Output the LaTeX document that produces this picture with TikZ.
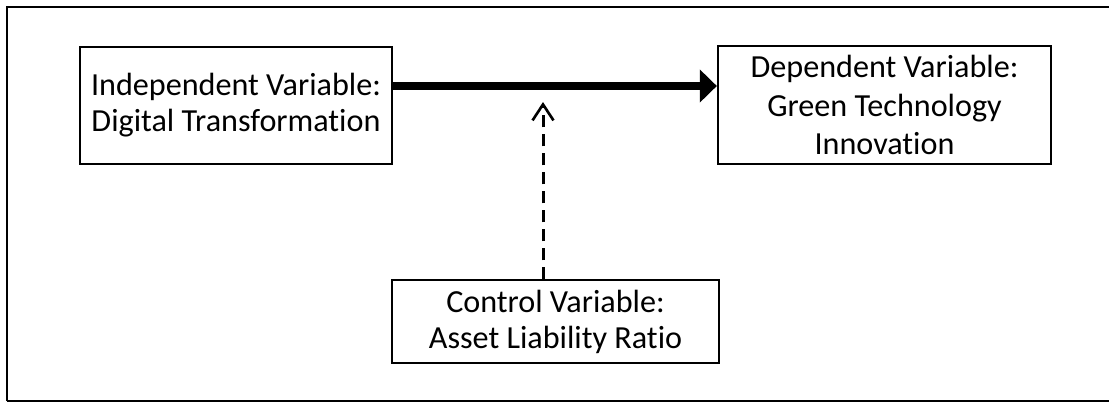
\documentclass[tikz,border=0pt]{standalone}
\usepackage{fontspec}
\setmainfont[Ligatures=NoCommon]{Carlito}
\usetikzlibrary{arrows.meta, positioning}

\begin{document}
\begin{tikzpicture}[draw=black, font=\fontsize{18.3}{20.5}\selectfont]
    \tikzstyle{frame}=[line width=1.2pt]
    \tikzstyle{var}=[rectangle, draw=black, line width=1.1pt, align=center, inner sep=0pt]
    \tikzstyle{ctrl var}=[var, line width=0.8pt]
    \tikzstyle{effect}=[line width=4pt, -{Triangle[length=0.34cm,width=0.64cm]}]
    \tikzstyle{control}=[line width=1.7pt, dash pattern=on 0.24cm off 0.14cm, -{Straight Barb[length=0.32cm,width=0.42cm,line width=1.5pt]}]

    \useasboundingbox (0,0) rectangle (22.18,-8.04);

    % outer frame
    \draw[frame] (0.14,-8.02) -- (0.14,-0.14) -- (22.18,-0.14);
    \draw[frame] (0.14,-8.02) -- (22.18,-8.02);

	\node[var, minimum width=6.24cm, minimum height=2.34cm] (IV) at (4.72,-2.11)
		{Independent Variable:\\Digital Transformation};
	\node[var, minimum width=6.66cm, minimum height=2.36cm, line width=1.3pt,
		font=\fontsize{18.3}{22}\selectfont] (DV) at (17.69,-2.10)
		{Dependent Variable:\\Green Technology\\Innovation};
	\node[ctrl var, minimum width=6.54cm, minimum height=1.66cm] (CV) at (11.11,-6.43)
		{Control Variable:\\Asset Liability Ratio};

	\coordinate (T) at (10.86,-2.04);

	\draw[effect] ([yshift=0.39cm]IV.east) -- ([yshift=0.38cm]DV.west);
	\draw[control] ([xshift=-0.25cm]CV.north) -- (T);

\end{tikzpicture}
\end{document}
